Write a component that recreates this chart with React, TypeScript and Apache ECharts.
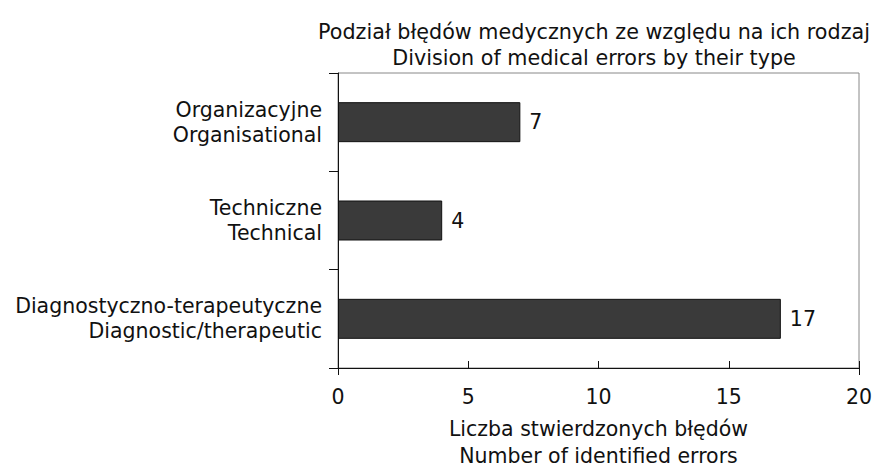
import React, { useEffect, useRef } from "react";
import * as echarts from "echarts";

const categories = [
  "Diagnostyczno-terapeutyczne\nDiagnostic/therapeutic",
  "Techniczne\nTechnical",
  "Organizacyjne\nOrganisational",
];
const values = [17, 4, 7];
const titleText = "Podział błędów medycznych ze względu na ich rodzaj\nDivision of medical errors by their type";
const xAxisName = "Liczba stwierdzonych błędów\nNumber of identified errors";

const FONT = "DejaVu Sans";
const FS = 20.5;

export default function App() {
  const ref = useRef<HTMLDivElement>(null);
  useEffect(() => {
    const chart = echarts.init(ref.current!, null, { renderer: "svg" });
    chart.setOption({
      animation: false,
      textStyle: { fontFamily: FONT },
      title: {
        text: titleText,
        left: 589,
        textAlign: "center",
        top: 14,
        textStyle: { fontFamily: FONT, fontSize: 20.7, fontWeight: "normal", color: "#111", lineHeight: 26 },
      },
      grid: {
        left: 338,
        right: 18,
        top: 73,
        bottom: 98,
        show: true,
        borderColor: "#888",
        borderWidth: 1,
        outerBoundsMode: "none",
        containLabel: false,
      },
      xAxis: [
        {
          type: "value",
          min: 0,
          max: 20,
          interval: 5,
          splitLine: { show: false },
          axisLine: { show: true, lineStyle: { color: "#111", width: 1 } },
          axisTick: { show: true, inside: true, length: 7, lineStyle: { color: "#111" } },
          axisLabel: { fontSize: FS, color: "#111", margin: 18, fontFamily: FONT },
          name: xAxisName,
          nameLocation: "middle",
          nameGap: 47,
          nameTextStyle: { fontSize: FS, color: "#111", lineHeight: 27, fontFamily: FONT },
        },
        {
          type: "value",
          position: "bottom",
          min: 0,
          max: 20,
          interval: 20,
          splitLine: { show: false },
          axisLine: { show: false },
          axisTick: { show: true, inside: false, length: 7, lineStyle: { color: "#111" } },
          axisLabel: { show: false },
        },
      ],
      yAxis: {
        type: "category",
        data: categories,
        axisLine: { show: true, lineStyle: { color: "#111", width: 1 } },
        axisTick: { show: true, inside: false, length: 9, lineStyle: { color: "#111" } },
        axisLabel: { fontSize: FS, color: "#111", margin: 16, lineHeight: 25, align: "right", fontFamily: FONT },
      },
      series: [
        {
          type: "bar",
          data: values,
          barWidth: 40,
          itemStyle: { color: "#3a3a3a", borderColor: "#111", borderWidth: 1 },
          label: { show: true, position: "right", distance: 9, fontSize: FS, color: "#111", fontFamily: FONT },
        },
      ],
    });
    return () => chart.dispose();
  }, []);
  return <div ref={ref} style={{ width: 877, height: 466, position: "absolute", left: 0, top: 0 }} />;
}
